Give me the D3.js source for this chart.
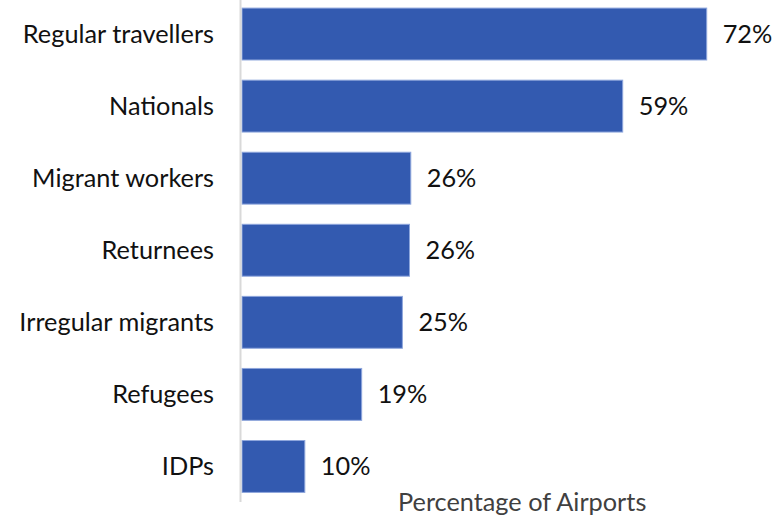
<!DOCTYPE html>
<html><head><meta charset="utf-8">
<script src="https://cdn.jsdelivr.net/npm/d3@7"></script>
<style>body{margin:0;background:#fff}svg{display:block}</style>
</head><body>
<script>
const categories = ["Regular travellers","Nationals","Migrant workers","Returnees","Irregular migrants","Refugees","IDPs"];
const values = [72, 59, 26.2, 26, 24.9, 18.6, 9.8];
const axisTitle = "Percentage of Airports";

const W = 784, H = 521;
const svg = d3.select("body").append("svg").attr("width", W).attr("height", H);
const x0 = 241.5;
const x = d3.scaleLinear().domain([0, 72]).range([x0, 706.7]);
const y = d3.scaleBand().domain(categories).range([-2, 502.5]).paddingInner(0.28).paddingOuter(0.14);
const font = "Lato, 'Open Sans', sans-serif";
const fs = 25.3;

const data = categories.map((c, i) => ({c, v: values[i]}));

svg.selectAll("rect.bar").data(data).enter().append("rect")
  .attr("class", "bar")
  .attr("x", x(0) + 0.5)
  .attr("y", d => y(d.c))
  .attr("width", d => x(d.v) - x(0) - 0.5)
  .attr("height", y.bandwidth())
  .attr("fill", "#335AB0")
  .attr("stroke", "#8ea6dc")
  .attr("stroke-width", 1);

// axis line
svg.append("line").attr("x1", 240.5).attr("x2", 240.5).attr("y1", 0).attr("y2", 502)
  .attr("stroke", "#d9d9d9").attr("stroke-width", 2);

// category labels
svg.selectAll("text.cat").data(data).enter().append("text")
  .attr("class", "cat")
  .attr("x", 214).attr("y", d => y(d.c) + y.bandwidth() / 2)
  .attr("dy", "0.35em").attr("text-anchor", "end")
  .attr("font-family", font).attr("font-size", fs).attr("fill", "#111")
  .text(d => d.c);

// value labels
const fmt = v => Math.round(v) + "%";
svg.selectAll("text.val").data(data).enter().append("text")
  .attr("class", "val")
  .attr("x", d => x(d.v) + 16).attr("y", d => y(d.c) + y.bandwidth() / 2)
  .attr("dy", "0.35em")
  .attr("font-family", font).attr("font-size", fs).attr("fill", "#111")
  .text(d => fmt(d.v));

svg.append("text").attr("x", 398).attr("y", 511)
  .attr("font-family", font).attr("font-size", fs).attr("fill", "#404040")
  .text(axisTitle);
</script>
</body></html>
